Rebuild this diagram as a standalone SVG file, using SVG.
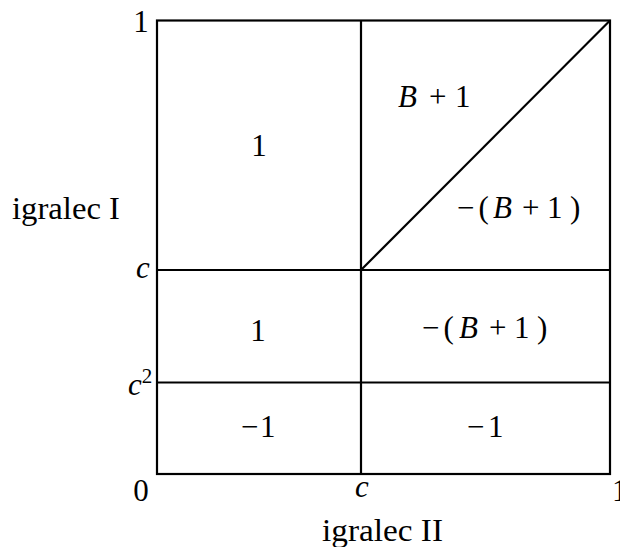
<svg xmlns="http://www.w3.org/2000/svg" width="620" height="547" viewBox="0 0 620 547">
<style>
text{font-family:"Liberation Serif","DejaVu Serif",serif;font-size:31px;fill:#000}
.i{font-style:italic}
.ln{stroke:#000;stroke-width:2.2;fill:none}
</style>
<rect width="620" height="547" fill="#fff"/>
<g id="connectors">
<rect class="ln" x="157" y="20.5" width="453" height="453.5"/>
<line class="ln" x1="361" y1="20.5" x2="361" y2="474"/>
<line class="ln" x1="157" y1="270" x2="610" y2="270"/>
<line class="ln" x1="157" y1="382.5" x2="610" y2="382.5"/>
<line class="ln" x1="361" y1="270" x2="610" y2="20.5"/>
</g>
<g id="axis-labels">
<text x="141" y="32" text-anchor="middle">1</text>
<text x="12" y="219" textLength="108" lengthAdjust="spacingAndGlyphs">igralec I</text>
<text class="i" x="143" y="278" text-anchor="middle">c</text>
<text x="128" y="395"><tspan class="i">c</tspan><tspan font-size="21" dy="-12">2</tspan></text>
<text x="141" y="501" text-anchor="middle">0</text>
<text class="i" x="362" y="497" text-anchor="middle">c</text>
<text x="612" y="501">1</text>
<text x="322" y="541" textLength="121" lengthAdjust="spacingAndGlyphs">igralec II</text>
</g>
<g id="cell-top-left"><text x="259" y="156" text-anchor="middle">1</text></g>
<g id="cell-top-right-upper"><text y="107"><tspan class="i" x="398">B</tspan><tspan x="429">+</tspan><tspan x="455">1</tspan></text></g>
<g id="cell-top-right-lower"><text y="218"><tspan x="457">−</tspan><tspan x="478.5">(</tspan><tspan class="i" x="493">B</tspan><tspan x="522">+</tspan><tspan x="547">1</tspan><tspan x="570">)</tspan></text></g>
<g id="cell-mid-left"><text x="258" y="341" text-anchor="middle">1</text></g>
<g id="cell-mid-right"><text y="338"><tspan x="422">−</tspan><tspan x="443.5">(</tspan><tspan class="i" x="459">B</tspan><tspan x="489">+</tspan><tspan x="514">1</tspan><tspan x="537">)</tspan></text></g>
<g id="cell-bot-left"><text y="437"><tspan x="241">−</tspan><tspan x="260">1</tspan></text></g>
<g id="cell-bot-right"><text y="437"><tspan x="467">−</tspan><tspan x="488">1</tspan></text></g>
</svg>
